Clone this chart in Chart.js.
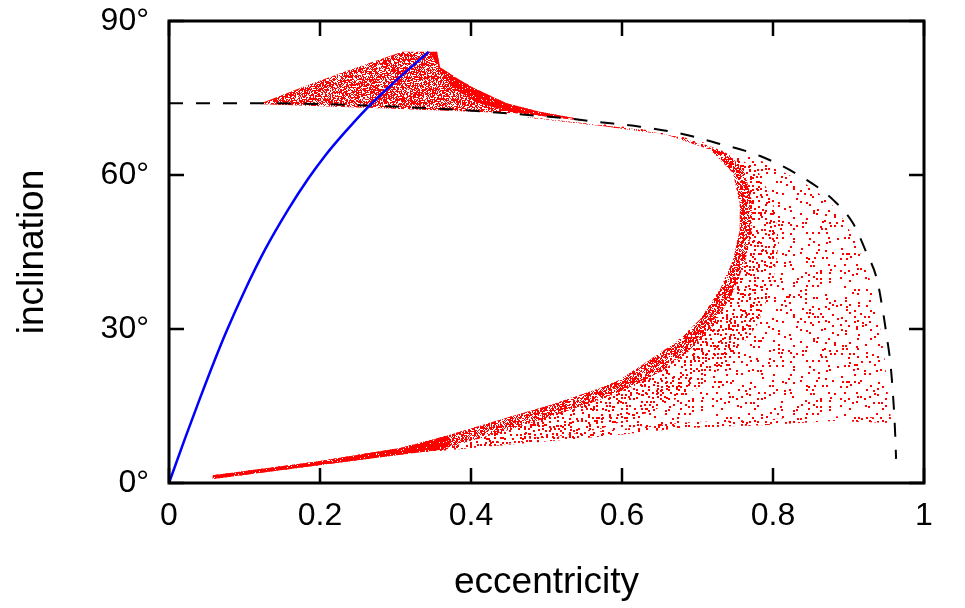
<!DOCTYPE html>
<html>
<head>
<meta charset="utf-8">
<title>inclination vs eccentricity</title>
<script src="https://cdn.jsdelivr.net/npm/chart.js@4.4.1/dist/chart.umd.min.js"></script>
<style>
  html, body { margin: 0; padding: 0; background: #fff; }
  canvas { display: block; }
</style>
</head>
<body>
<canvas id="chart" width="965" height="608"></canvas>
<script>
// axis ticks
const xTicks = [0, 0.2, 0.4, 0.6, 0.8, 1];
const yTicks = [0, 30, 60, 90];

// blue curve (eccentricity, inclination in degrees)
const blueE = [0, 0.021, 0.039, 0.061, 0.076, 0.101, 0.127, 0.158, 0.185, 0.207, 0.231, 0.262, 0.297, 0.344];
const blueI = [0, 8.6, 15.7, 24.1, 29.5, 37.7, 45.4, 53.3, 59.4, 63.8, 68.0, 73.0, 77.9, 84.0];

// dashed black limit
const dashE = [0, 0.12, 0.25, 0.403, 0.535, 0.571, 0.624, 0.68, 0.726, 0.783, 0.845, 0.880, 0.906, 0.924, 0.938, 0.946, 0.950, 0.956, 0.960, 0.962, 0.963];
const dashI = [74.0, 74.0, 73.6, 72.5, 70.9, 70.3, 69.4, 68.0, 66.2, 63.7, 59.0, 55.1, 50.6, 44.8, 39.5, 33.1, 29.2, 22.6, 14.8, 9.0, 4.7];

// red cloud, main region: lower edge, outer edge, inner (C shaped) edge
const lowerE = [0.058, 0.196, 0.306, 0.416, 0.571, 0.681, 0.792, 0.880, 0.957];
const lowerI = [0.8, 3.4, 5.5, 7.0, 9.0, 10.7, 11.3, 12.1, 11.7];
const outerE = [0.957, 0.953, 0.948, 0.941, 0.933, 0.924, 0.909, 0.895, 0.874, 0.840, 0.777, 0.722, 0.676, 0.620, 0.568, 0.530, 0.475];
const outerI = [11.7, 16, 24, 31, 37, 42, 47, 51, 55, 58.6, 63.3, 65.8, 67.6, 69.1, 70.0, 70.6, 71.5];
const innerE = [0.475, 0.571, 0.660, 0.717, 0.747, 0.756, 0.756, 0.747, 0.730, 0.703, 0.672, 0.637, 0.597, 0.571, 0.505, 0.438, 0.372, 0.306, 0.196, 0.058];
const innerI = [71.2, 69.6, 67.8, 64.9, 60.4, 54.5, 49.3, 43.4, 37.8, 31.8, 27.5, 24.0, 20.1, 18.5, 15.2, 12.3, 9.4, 6.8, 4.2, 1.5];

// denser bands next to the inner edge
const denseE = [0.058, 0.196, 0.306, 0.372, 0.438, 0.505, 0.571, 0.61, 0.655, 0.69, 0.72, 0.745, 0.763, 0.772, 0.772, 0.762, 0.74, 0.676, 0.62, 0.568, 0.530, 0.475];
const denseI = [0.8, 3.4, 5.5, 7.0, 9.8, 12.9, 16.2, 18.4, 22.0, 25.8, 30.5, 36.5, 43, 49.3, 55, 61, 64.2, 67.4, 68.9, 69.8, 70.4, 71.3];
const medE = [0.058, 0.196, 0.306, 0.416, 0.50, 0.571, 0.64, 0.70, 0.745, 0.78, 0.80, 0.808, 0.80, 0.78, 0.75, 0.70, 0.62, 0.568, 0.475];
const medI = [0.8, 3.4, 5.5, 7.0, 8.6, 10.5, 14.0, 18.5, 24.0, 31.0, 39.0, 47, 55, 60.8, 63.8, 66.5, 68.9, 69.8, 71.3];
// thin strip along the lower edge (right to left)
const stripE = [0.957, 0.880, 0.792, 0.681, 0.571, 0.416];
const stripI = [12.7, 13.0, 12.4, 11.8, 10.1, 7.8];
// nearly solid thin tail at lower left
const coreE = [0.058, 0.196, 0.306, 0.37, 0.37, 0.306, 0.196, 0.058];
const coreI = [1.5, 4.2, 6.8, 9.2, 6.6, 5.5, 3.4, 0.8];

// upper lobe
const lobeTopE = [0.122, 0.183, 0.249, 0.309, 0.355, 0.359, 0.381, 0.403, 0.447, 0.491, 0.544];
const lobeTopI = [74.0, 77.5, 81.0, 84.0, 84.0, 81.0, 78.9, 77.0, 74.0, 72.3, 70.9];
const lobeBotE = [0.544, 0.465, 0.279, 0.122];
const lobeBotI = [70.6, 72.0, 73.0, 73.8];
const skirtE = [0.345, 0.355, 0.359, 0.381, 0.403, 0.447, 0.491, 0.544, 0.50, 0.45, 0.41, 0.38, 0.36];
const skirtI = [84, 84, 81, 78.9, 77.0, 74.0, 72.3, 70.9, 71.4, 72.4, 74.0, 76.5, 80];

const FONT = "'Liberation Sans', Arial, Helvetica, sans-serif";
const ctx = document.getElementById('chart').getContext('2d');

function pts(es, is) {
  return es.map((e, k) => ({ x: e, y: is[k] }));
}

function noise(x, y, s) {
  const h = Math.sin(x * 12.9898 + y * 78.233 + s * 37.719) * 43758.5453;
  return h - Math.floor(h);
}

// dotted red texture so the filled regions look like a point cloud
// dot = 1: single pixels; dot = 2: 2x2 dots jittered inside 4px cells
function stipple(prob, seed, dot) {
  const size = 128;
  const step = dot === 1 ? 1 : 4;
  const tile = document.createElement('canvas');
  tile.width = tile.height = size;
  const g = tile.getContext('2d');
  g.fillStyle = '#ff0000';
  for (let y = 0; y < size; y += step) {
    for (let x = 0; x < size; x += step) {
      if (noise(x, y, seed) >= prob) continue;
      if (dot === 1) {
        g.fillRect(x, y, 1, 1);
      } else {
        const ox = Math.floor(noise(x, y, seed + 11) * 3);
        const oy = Math.floor(noise(x, y, seed + 23) * 3);
        g.fillRect(x + ox, y + oy, 2, 2);
      }
    }
  }
  return ctx.createPattern(tile, 'repeat');
}

function region(points, prob, seed, dot, order) {
  return {
    data: points,
    indexAxis: 'y',
    fill: 'shape',
    backgroundColor: stipple(prob, seed, dot),
    borderColor: 'rgba(0,0,0,0)',
    borderWidth: 0,
    pointRadius: 0,
    order: order
  };
}

const mainPoly = pts(lowerE, lowerI).concat(pts(outerE, outerI), pts(innerE, innerI));
const medPoly = pts(innerE, innerI).concat(pts(medE, medI));
const densePoly = pts(innerE, innerI).concat(pts(denseE, denseI));
const stripPoly = pts(lowerE.slice(3), lowerI.slice(3)).concat(pts(stripE, stripI));
const lobePoly = pts(lobeTopE, lobeTopI).concat(pts(lobeBotE, lobeBotI));

// box and inward ticks on all four sides
const frame = {
  id: 'frame',
  afterDatasetsDraw(chart) {
    const { ctx, chartArea: a, scales: { x, y } } = chart;
    ctx.save();
    ctx.strokeStyle = '#000';
    ctx.lineWidth = 2.5;
    ctx.beginPath();
    xTicks.forEach(v => {
      const px = x.getPixelForValue(v);
      ctx.moveTo(px, a.bottom); ctx.lineTo(px, a.bottom - 15);
      ctx.moveTo(px, a.top); ctx.lineTo(px, a.top + 15);
    });
    yTicks.forEach(v => {
      const py = y.getPixelForValue(v);
      ctx.moveTo(a.left, py); ctx.lineTo(a.left + 15, py);
      ctx.moveTo(a.right, py); ctx.lineTo(a.right - 15, py);
    });
    ctx.stroke();
    ctx.lineWidth = 3;
    ctx.strokeRect(a.left, a.top, a.right - a.left, a.bottom - a.top);
    ctx.restore();
  }
};

// fixed plot box: no extra room for the end tick labels
function noPad(s) {
  s.paddingTop = 0;
  s.paddingBottom = 0;
  s.paddingLeft = 0;
  s.paddingRight = 0;
}

new Chart(ctx, {
  type: 'line',
  data: {
    datasets: [
      {
        data: pts(blueE, blueI),
        borderColor: '#0000ff',
        borderWidth: 2.5,
        pointRadius: 0,
        fill: false,
        cubicInterpolationMode: 'monotone',
        order: 0
      },
      {
        data: pts(dashE, dashI),
        borderColor: '#000',
        borderWidth: 2,
        borderDash: [14, 13],
        pointRadius: 0,
        fill: false,
        cubicInterpolationMode: 'monotone',
        order: 1
      },
      region(pts(skirtE, skirtI), 0.85, 7, 1, 2),
      region(lobePoly, 0.62, 6, 1, 3),
      region(pts(coreE, coreI), 0.85, 5, 1, 4),
      region(densePoly, 0.5, 4, 1, 5),
      region(medPoly, 0.6, 3, 2, 6),
      region(stripPoly, 0.6, 2, 2, 7),
      region(mainPoly, 0.36, 1, 2, 8)
    ]
  },
  options: {
    responsive: false,
    animation: false,
    layout: { padding: { top: 21, right: 41, left: 0, bottom: 0 } },
    plugins: {
      legend: { display: false },
      tooltip: { enabled: false }
    },
    scales: {
      x: {
        type: 'linear',
        min: 0,
        max: 1,
        afterFit: s => { s.height = 125; noPad(s); },
        afterBuildTicks: s => { s.ticks = xTicks.map(v => ({ value: v })); },
        grid: { display: false, drawTicks: false },
        border: { display: false },
        ticks: {
          padding: 14,
          maxRotation: 0,
          color: '#000',
          font: { family: FONT, size: 32 },
          callback: v => String(Math.round(v * 10) / 10)
        },
        title: {
          display: true,
          text: 'eccentricity',
          color: '#000',
          font: { family: FONT, size: 37 },
          padding: { top: 0, bottom: 3 }
        }
      },
      y: {
        type: 'linear',
        min: 0,
        max: 90,
        afterFit: s => { s.width = 169; noPad(s); },
        afterBuildTicks: s => { s.ticks = yTicks.map(v => ({ value: v })); },
        grid: { display: false, drawTicks: false },
        border: { display: false },
        ticks: {
          padding: 20,
          color: '#000',
          font: { family: FONT, size: 32 },
          callback: v => v + '°'
        },
        title: {
          display: true,
          text: 'inclination',
          color: '#000',
          font: { family: FONT, size: 37 },
          padding: { top: 11, bottom: 0 }
        }
      }
    }
  },
  plugins: [frame]
});
</script>
</body>
</html>
